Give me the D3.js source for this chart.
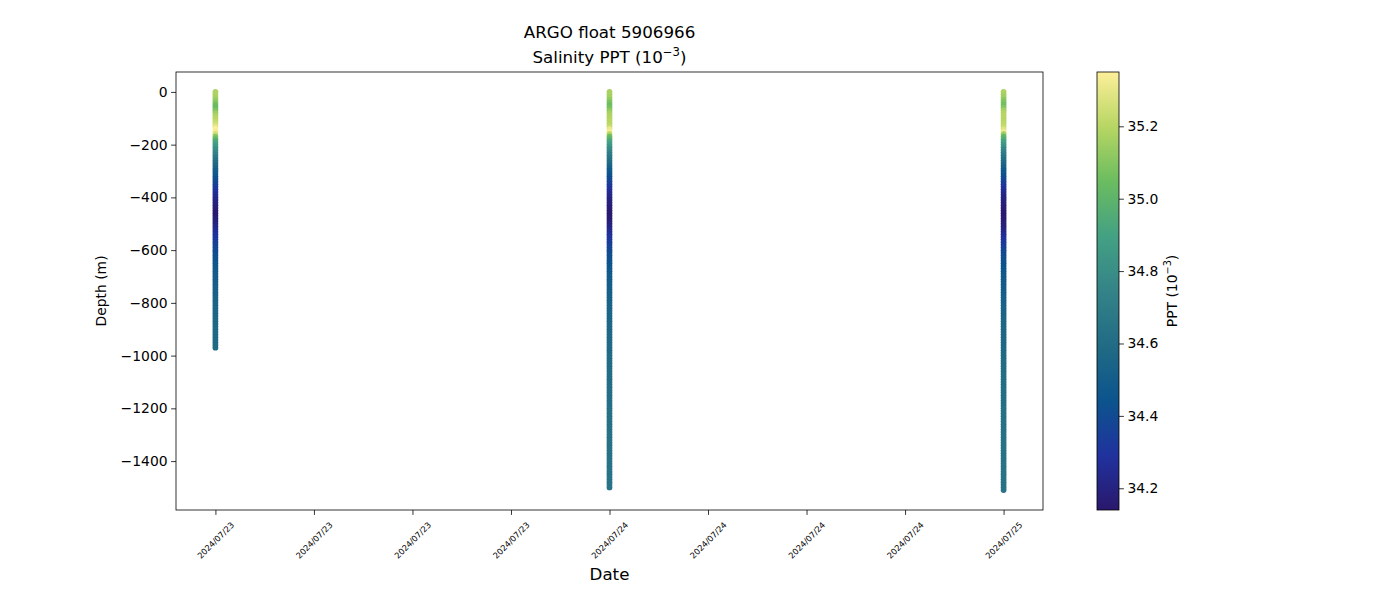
<!DOCTYPE html>
<head>
  <script src="https://d3js.org/d3.v7.min.js"></script>
  <meta charset='utf-8'>
  <title>ARGO float 5906966</title>
  <style>
    body {
      margin: 0;
      background: white;
    }
    svg text {
      font-family: "DejaVu Sans", sans-serif;
      fill: black;
    }
    .axis path, .axis line {
      stroke: black;
      stroke-width: 0.8;
    }
  </style>
</head>

<body>
  <div id="chart"></div>

  <script>

// profile dates (one per cast)
var dates = ["2024-07-23T03:00:00Z", "2024-07-24T03:00:00Z", "2024-07-25T03:00:00Z"];

// depth levels (m)
var levels = [0, 10, 20, 30, 40, 50, 60, 70, 80, 90, 100, 110, 120, 130, 140, 150, 160, 170, 180, 190,
  200, 210, 220, 230, 240, 250, 260, 270, 280, 290, 300, 310, 320, 330, 340, 350, 360, 370, 380, 390,
  400, 410, 420, 430, 440, 450, 460, 470, 480, 490, 500, 510, 520, 530, 540, 550, 560, 570, 580, 590,
  600, 610, 620, 630, 640, 650, 660, 670, 680, 690, 700, 710, 720, 730, 740, 750, 760, 770, 780, 790,
  800, 810, 820, 830, 840, 850, 860, 870, 880, 890, 900, 910, 920, 930, 940, 950, 960, 970, 980, 990,
  1000, 1010, 1020, 1030, 1040, 1050, 1060, 1070, 1080, 1090, 1100, 1110, 1120, 1130, 1140, 1150, 1160, 1170, 1180, 1190,
  1200, 1210, 1220, 1230, 1240, 1250, 1260, 1270, 1280, 1290, 1300, 1310, 1320, 1330, 1340, 1350, 1360, 1370, 1380, 1390,
  1400, 1410, 1420, 1430, 1440, 1450, 1460, 1470, 1480, 1490, 1500, 1510];

// salinity per cast, read down the levels
var sal1 = [35.18, 35.18, 35.17, 35.14, 35.10, 35.05, 35.04, 35.08, 35.14, 35.18, 35.20, 35.22, 35.24, 35.29, 35.35, 35.33, 35.25, 35.10, 35.00, 34.93,
  34.88, 34.84, 34.80, 34.76, 34.72, 34.68, 34.64, 34.60, 34.57, 34.54,
  34.50, 34.48, 34.45, 34.42, 34.40, 34.37, 34.34, 34.31, 34.28, 34.26,
  34.24, 34.22, 34.20, 34.19, 34.18, 34.16, 34.14, 34.15, 34.17, 34.18,
  34.20, 34.22, 34.24, 34.26, 34.28, 34.30, 34.32, 34.34, 34.36, 34.38,
  34.39, 34.40, 34.42, 34.43, 34.44, 34.45, 34.46, 34.47, 34.48, 34.49,
  34.50, 34.50, 34.51, 34.51, 34.52, 34.52, 34.53, 34.53, 34.54, 34.54,
  34.55, 34.55, 34.56, 34.56, 34.56, 34.56, 34.57, 34.57, 34.57, 34.57,
  34.58, 34.58, 34.58, 34.58, 34.58, 34.58, 34.59, 34.59];

var sal2 = [35.17, 35.17, 35.16, 35.13, 35.08, 35.05, 35.07, 35.12, 35.16, 35.18, 35.19, 35.20, 35.20, 35.22, 35.30, 35.33, 35.20, 35.05, 34.98, 34.92,
  34.87, 34.82, 34.78, 34.74, 34.70, 34.67, 34.63, 34.60, 34.56, 34.52,
  34.48, 34.46, 34.43, 34.40, 34.37, 34.34, 34.31, 34.28, 34.26, 34.24,
  34.22, 34.20, 34.19, 34.18, 34.17, 34.16, 34.15, 34.15, 34.16, 34.17,
  34.19, 34.21, 34.23, 34.25, 34.27, 34.29, 34.31, 34.33, 34.35, 34.37,
  34.38, 34.40, 34.41, 34.42, 34.43, 34.44, 34.45, 34.46, 34.47, 34.48,
  34.49, 34.49, 34.50, 34.50, 34.51, 34.51, 34.52, 34.52, 34.53, 34.53,
  34.54, 34.54, 34.55, 34.55, 34.56, 34.56, 34.56, 34.56, 34.57, 34.57,
  34.57, 34.57, 34.58, 34.58, 34.58, 34.58, 34.59, 34.59, 34.59, 34.59,
  34.60, 34.60, 34.60, 34.60, 34.60, 34.60, 34.61, 34.61, 34.61, 34.61,
  34.61, 34.61, 34.62, 34.62, 34.62, 34.62, 34.62, 34.62, 34.62, 34.62,
  34.63, 34.63, 34.63, 34.63, 34.63, 34.63, 34.63, 34.63, 34.63, 34.63,
  34.64, 34.64, 34.64, 34.64, 34.64, 34.64, 34.64, 34.64, 34.64, 34.64,
  34.65, 34.65, 34.65, 34.65, 34.65, 34.65, 34.65, 34.65, 34.65, 34.65,
  34.65];

var sal3 = [35.18, 35.17, 35.15, 35.11, 35.08, 35.06, 35.10, 35.16, 35.19, 35.20, 35.20, 35.20, 35.21, 35.22, 35.27, 35.32, 35.15, 35.02, 34.96, 34.90,
  34.85, 34.80, 34.76, 34.72, 34.68, 34.65, 34.61, 34.58, 34.55, 34.51,
  34.47, 34.45, 34.42, 34.39, 34.36, 34.33, 34.30, 34.27, 34.25, 34.23,
  34.21, 34.20, 34.19, 34.18, 34.17, 34.16, 34.15, 34.15, 34.16, 34.17,
  34.18, 34.19, 34.21, 34.23, 34.25, 34.27, 34.29, 34.31, 34.33, 34.35,
  34.37, 34.39, 34.40, 34.41, 34.42, 34.43, 34.44, 34.45, 34.46, 34.47,
  34.48, 34.48, 34.49, 34.49, 34.50, 34.50, 34.51, 34.51, 34.52, 34.52,
  34.53, 34.53, 34.54, 34.54, 34.55, 34.55, 34.56, 34.56, 34.56, 34.56,
  34.57, 34.57, 34.57, 34.57, 34.58, 34.58, 34.58, 34.58, 34.59, 34.59,
  34.59, 34.59, 34.60, 34.60, 34.60, 34.60, 34.60, 34.61, 34.61, 34.61,
  34.61, 34.61, 34.61, 34.62, 34.62, 34.62, 34.62, 34.62, 34.62, 34.62,
  34.63, 34.63, 34.63, 34.63, 34.63, 34.63, 34.63, 34.63, 34.63, 34.63,
  34.64, 34.64, 34.64, 34.64, 34.64, 34.64, 34.64, 34.64, 34.64, 34.64,
  34.64, 34.65, 34.65, 34.65, 34.65, 34.65, 34.65, 34.65, 34.65, 34.65,
  34.65, 34.65];

var xTicks = ["2024-07-23T03:00:00Z", "2024-07-23T09:00:00Z", "2024-07-23T15:00:00Z", "2024-07-23T21:00:00Z",
  "2024-07-24T03:00:00Z", "2024-07-24T09:00:00Z", "2024-07-24T15:00:00Z", "2024-07-24T21:00:00Z", "2024-07-25T03:00:00Z"];
var yTicks = [0, -200, -400, -600, -800, -1000, -1200, -1400];
var cTicks = [34.2, 34.4, 34.6, 34.8, 35.0, 35.2];

// cmocean "haline" stops
var haline = ["#2a186c", "#20329e", "#0c548d", "#216b85", "#348388", "#43a183", "#6bbc60", "#b7d663", "#fdef9a"];

var W = 1400, H = 600;
var plot = {left: 176, right: 1043, top: 72, bottom: 510};
var cbar = {left: 1097, right: 1119};

var svg = d3.select("#chart").append("svg")
    .attr("width", W)
    .attr("height", H);

var casts = [sal1, sal2, sal3].map(function(s, i) {
  return s.map(function(v, k) {
    return {date: new Date(dates[i]), depth: -levels[k], sal: v};
  });
});
var all = d3.merge(casts);

// matplotlib style 5% margins
var tExt = d3.extent(all, function(d) { return +d.date; });
var tPad = (tExt[1] - tExt[0]) * 0.05;
var x = d3.scaleUtc()
  .domain([new Date(tExt[0] - tPad), new Date(tExt[1] + tPad)])
  .range([plot.left, plot.right]);

var dExt = d3.extent(all, function(d) { return d.depth; });
var dPad = (dExt[1] - dExt[0]) * 0.05;
var y = d3.scaleLinear()
  .domain([dExt[0] - dPad, dExt[1] + dPad])
  .range([plot.bottom, plot.top]);

var sExt = d3.extent(all, function(d) { return d.sal; });
var color = d3.scaleLinear()
  .domain(haline.map(function(c, i) { return sExt[0] + (sExt[1] - sExt[0]) * i / (haline.length - 1); }))
  .range(haline)
  .interpolate(d3.interpolateRgb);

// points
casts.forEach(function(cast) {
  svg.append("g").selectAll("circle")
    .data(cast)
    .enter().append("circle")
      .attr("cx", function(d) { return x(d.date); })
      .attr("cy", function(d) { return y(d.depth); })
      .attr("r", 2.9)
      .attr("fill", function(d) { return color(d.sal); });
});

// frame
svg.append("rect")
  .attr("x", plot.left).attr("y", plot.top)
  .attr("width", plot.right - plot.left).attr("height", plot.bottom - plot.top)
  .attr("fill", "none").attr("stroke", "black").attr("stroke-width", 0.8);

var fmtMinus = function(v) { return String(v).replace("-", "\u2212"); };

svg.append("g")
  .attr("class", "axis")
  .attr("transform", "translate(" + plot.left + ",0)")
  .call(d3.axisLeft(y).tickValues(yTicks).tickSize(4.9).tickPadding(3.5).tickFormat(fmtMinus))
  .call(function(g) { g.select(".domain").remove(); })
  .selectAll("text").attr("font-size", "13.9px");

var xa = svg.append("g")
  .attr("class", "axis")
  .attr("transform", "translate(0," + plot.bottom + ")")
  .call(d3.axisBottom(x).tickValues(xTicks.map(function(t) { return new Date(t); }))
    .tickSize(4.9).tickFormat(d3.utcFormat("%Y/%m/%d")))
  .call(function(g) { g.select(".domain").remove(); });

xa.selectAll(".tick text")
  .attr("font-size", "8.3px")
  .attr("y", 0).attr("dy", "0.32em")
  .attr("text-anchor", "middle")
  .attr("transform", "translate(0,30.5) rotate(-45)");

// axis labels
svg.append("text")
  .attr("x", (plot.left + plot.right) / 2).attr("y", 580)
  .attr("text-anchor", "middle").attr("font-size", "16.7px")
  .text("Date");

svg.append("text")
  .attr("transform", "translate(106," + (plot.top + plot.bottom) / 2 + ") rotate(-90)")
  .attr("text-anchor", "middle").attr("font-size", "13.9px")
  .text("Depth (m)");

// title
svg.append("text")
  .attr("x", (plot.left + plot.right) / 2).attr("y", 38)
  .attr("text-anchor", "middle").attr("font-size", "16.7px")
  .text("ARGO float 5906966");

var t2 = svg.append("text")
  .attr("x", (plot.left + plot.right) / 2).attr("y", 63)
  .attr("text-anchor", "middle").attr("font-size", "16.7px");
t2.append("tspan").text("Salinity PPT (10");
t2.append("tspan").attr("dy", -7).attr("font-size", "11.7px").text("\u22123");
t2.append("tspan").attr("dy", 7).text(")");

// colorbar
var grad = svg.append("defs").append("linearGradient")
  .attr("id", "halineGrad")
  .attr("x1", 0).attr("y1", 1).attr("x2", 0).attr("y2", 0);
grad.selectAll("stop")
  .data(haline)
  .enter().append("stop")
    .attr("offset", function(d, i) { return i / (haline.length - 1); })
    .attr("stop-color", function(d) { return d; });

svg.append("rect")
  .attr("x", cbar.left).attr("y", plot.top)
  .attr("width", cbar.right - cbar.left).attr("height", plot.bottom - plot.top)
  .attr("fill", "url(#halineGrad)")
  .attr("stroke", "black").attr("stroke-width", 0.8);

var cy = d3.scaleLinear().domain(sExt).range([plot.bottom, plot.top]);

svg.append("g")
  .attr("class", "axis")
  .attr("transform", "translate(" + cbar.right + ",0)")
  .call(d3.axisRight(cy).tickValues(cTicks).tickSize(4.9).tickPadding(3.5).tickFormat(d3.format(".1f")))
  .call(function(g) { g.select(".domain").remove(); })
  .selectAll("text").attr("font-size", "13.9px");

var cl = svg.append("text")
  .attr("transform", "translate(1177," + (plot.top + plot.bottom) / 2 + ") rotate(-90)")
  .attr("text-anchor", "middle").attr("font-size", "13.9px");
cl.append("tspan").text("PPT (10");
cl.append("tspan").attr("dy", -6).attr("font-size", "9.7px").text("\u22123");
cl.append("tspan").attr("dy", 6).text(")");

</script>
</body>
